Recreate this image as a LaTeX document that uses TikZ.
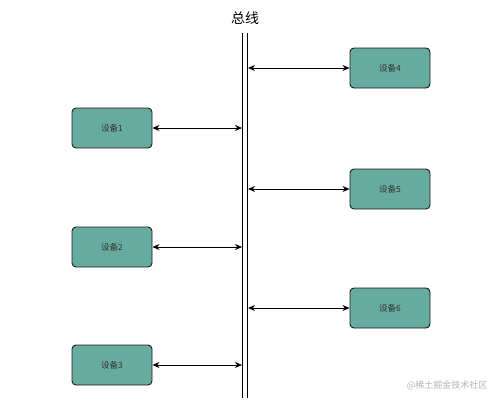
\documentclass[tikz,border=0pt]{standalone}
\usepackage{fontspec}
\newfontfamily\cjk{Noto Sans CJK SC}
\usetikzlibrary{arrows.meta}
\definecolor{boxfill}{HTML}{67AB9F}
\definecolor{boxline}{HTML}{1A1A1A}
\begin{document}
\begin{tikzpicture}[x=1pt,y=-1pt,
  dev/.style={draw=boxline,line width=0.9pt,fill=boxfill,rounded corners=4pt,
    minimum width=80pt,minimum height=40pt,inner sep=0pt,font=\cjk\fontsize{8.5}{10}\selectfont,text=black!80},
  link/.style={line width=0.8pt,{Stealth[length=7pt,width=6pt]}-{Stealth[length=7pt,width=6pt]}},
  busline/.style={line width=0.8pt}]
\useasboundingbox (0,0) rectangle (500,405);
\draw[busline] (242,33) -- (242,398);
\draw[busline] (247,33) -- (247,398);
\node[font=\cjk\fontsize{14}{16}\selectfont] (title) at (245,18) {总线};
\node[dev] (d1) at (112,128) {设备1};
\node[dev] (d2) at (112,247) {设备2};
\node[dev] (d3) at (112,365) {设备3};
\node[dev] (d4) at (390,68) {设备4};
\node[dev] (d5) at (390,189) {设备5};
\node[dev] (d6) at (390,308) {设备6};
\coordinate (b1) at (242,128);
\coordinate (b2) at (242,247);
\coordinate (b3) at (242,365);
\coordinate (b4) at (248,68);
\coordinate (b5) at (248,189);
\coordinate (b6) at (248,308);
\draw[link] (d1.east) -- (b1);
\draw[link] (d2.east) -- (b2);
\draw[link] (d3.east) -- (b3);
\draw[link] (b4) -- (d4.west);
\draw[link] (b5) -- (d5.west);
\draw[link] (b6) -- (d6.west);
\node[font=\cjk\fontsize{9}{11}\selectfont,text=black!30,anchor=east] (wm) at (491,385) {@稀土掘金技术社区};
\end{tikzpicture}
\end{document}
